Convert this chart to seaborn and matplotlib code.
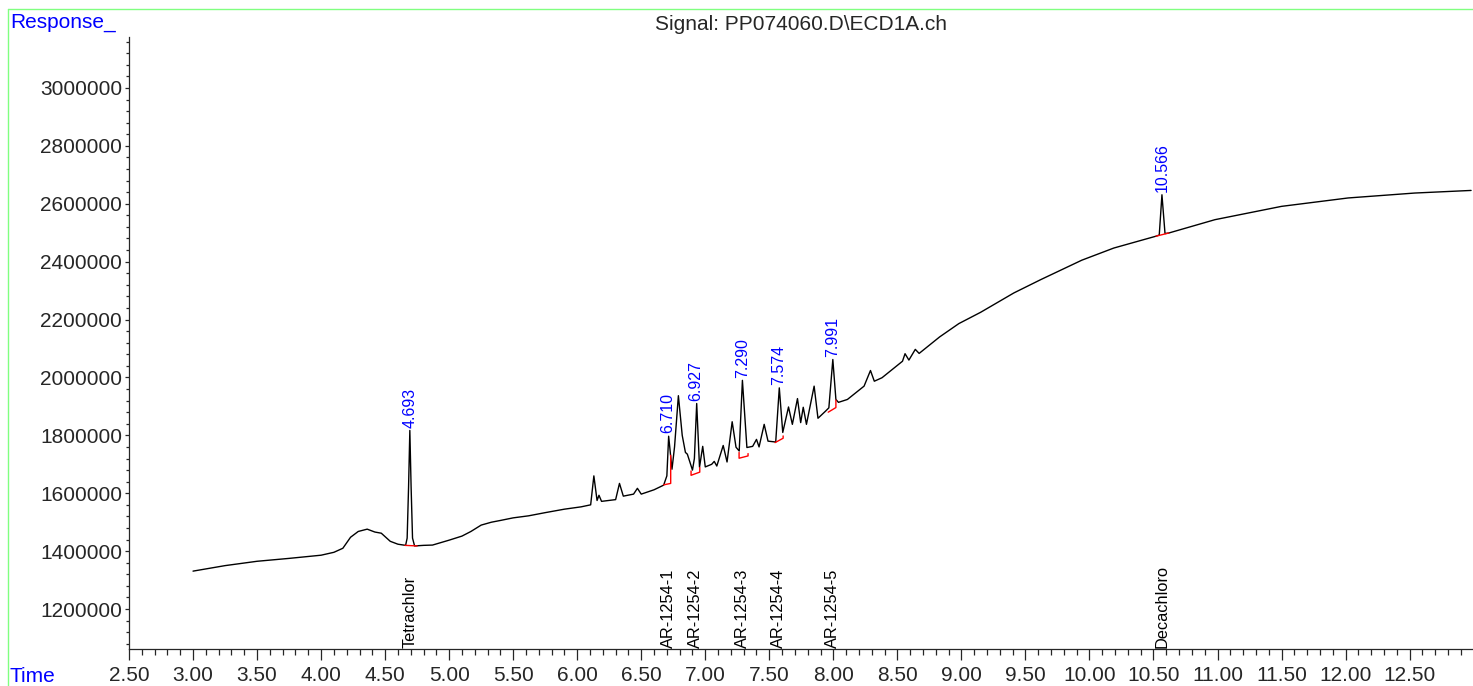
import numpy as np
import pandas as pd
import matplotlib
matplotlib.use("Agg")
import matplotlib.pyplot as plt
import seaborn as sns
from matplotlib.lines import Line2D
from matplotlib.ticker import MultipleLocator, FuncFormatter
import matplotlib.transforms as mtransforms

# chromatogram trace (time in min, response)
time = [3.00, 3.25, 3.50, 3.75, 4.00, 4.10, 4.17, 4.23, 4.29, 4.36, 4.42, 4.47,
        4.54, 4.60, 4.66, 4.672, 4.683, 4.693, 4.703, 4.714, 4.73, 4.80, 4.87,
        5.00, 5.10, 5.17, 5.25, 5.33, 5.40, 5.50, 5.62, 5.75, 5.90, 6.03, 6.105,
        6.13, 6.155, 6.17, 6.19, 6.30, 6.33, 6.36, 6.44, 6.47, 6.50, 6.60, 6.675,
        6.70, 6.714, 6.74, 6.76, 6.79, 6.82, 6.845, 6.86, 6.90, 6.915, 6.933,
        6.955, 6.98, 7.00, 7.05, 7.07, 7.09, 7.14, 7.17, 7.21, 7.24, 7.265, 7.29,
        7.325, 7.37, 7.40, 7.42, 7.46, 7.49, 7.55, 7.578, 7.605, 7.65, 7.68,
        7.72, 7.745, 7.765, 7.79, 7.85, 7.88, 7.94, 7.965, 7.996, 8.02, 8.04,
        8.11, 8.24, 8.29, 8.32, 8.38, 8.54, 8.56, 8.59, 8.64, 8.67, 8.83, 8.98,
        9.15, 9.41, 9.62, 9.94, 10.19, 10.52, 10.545, 10.566, 10.59, 10.62,
        10.98, 11.50, 12.02, 12.54, 12.98]
response = [1331000, 1350000, 1365000, 1375000, 1386000, 1396000, 1410000,
            1448000, 1468000, 1476000, 1466000, 1462000, 1434000, 1424000,
            1420000, 1445000, 1620000, 1817000, 1620000, 1445000, 1418000,
            1420000, 1421000, 1438000, 1452000, 1468000, 1490000, 1500000,
            1506000, 1515000, 1522000, 1533000, 1545000, 1553000, 1560000,
            1660000, 1575000, 1593000, 1572000, 1578000, 1634000, 1590000,
            1597000, 1617000, 1597000, 1612000, 1628000, 1660000, 1797000,
            1683000, 1760000, 1937000, 1800000, 1741000, 1735000, 1680000,
            1720000, 1910000, 1690000, 1762000, 1691000, 1700000, 1710000,
            1694000, 1765000, 1708000, 1847000, 1759000, 1746000, 1990000,
            1758000, 1762000, 1786000, 1760000, 1838000, 1780000, 1777000,
            1964000, 1810000, 1898000, 1838000, 1927000, 1844000, 1897000,
            1838000, 1970000, 1859000, 1884000, 1895000, 2062000, 1924000,
            1914000, 1924000, 1970000, 2024000, 1987000, 1999000, 2056000,
            2082000, 2060000, 2097000, 2083000, 2140000, 2186000, 2225000,
            2292000, 2338000, 2405000, 2447000, 2488000, 2492000, 2631000,
            2497000, 2499000, 2545000, 2591000, 2620000, 2637000, 2646000]

# integrated peaks
peak_rt = [4.693, 6.710, 6.927, 7.290, 7.574, 7.991, 10.566]
peak_top = [1817000, 1797000, 1910000, 1990000, 1964000, 2062000, 2631000]
peak_name = ["Tetrachlor", "AR-1254-1", "AR-1254-2", "AR-1254-3",
             "AR-1254-4", "AR-1254-5", "Decachloro"]

# integration baselines (red)
base_t = [[4.655, 4.75],
          [6.675, 6.73, 6.73],
          [6.889, 6.889, 6.957, 6.957],
          [7.264, 7.264, 7.334, 7.334],
          [7.545, 7.608, 7.608],
          [7.96, 8.02, 8.02],
          [10.52, 10.62]]
base_y = [[1420000, 1418000],
          [1629000, 1634000, 1731000],
          [1677000, 1662000, 1673000, 1689000],
          [1741000, 1721000, 1729000, 1737000],
          [1775000, 1790000, 1798000],
          [1880000, 1896000, 1922000],
          [2488000, 2499000]]

sns.set_style("ticks")
plt.rcParams["font.family"] = ["Liberation Sans", "DejaVu Sans"]
blue = "#0000ff"

fig = plt.figure(figsize=(14.73, 6.86), dpi=100)
ax = fig.add_axes([129 / 1473, 1 - 649 / 686, 1 - 129 / 1473, (649 - 37) / 686])

trace = pd.DataFrame({"time": time, "response": response})
sns.lineplot(data=trace, x="time", y="response", ax=ax, color="black",
             linewidth=1.0, estimator=None, sort=False)

for bt, by in zip(base_t, base_y):
    seg = pd.DataFrame({"t": bt, "y": by})
    sns.lineplot(data=seg, x="t", y="y", ax=ax, color="red", linewidth=1.0,
                 estimator=None, sort=False)

for rt, top in zip(peak_rt, peak_top):
    ax.annotate(f"{rt:.3f}", (rt, top), xytext=(0, 2), textcoords="offset points",
                rotation=90, ha="center", va="bottom", color=blue, fontsize=11.5)

trans = mtransforms.blended_transform_factory(ax.transData, ax.transAxes)
for rt, name in zip(peak_rt, peak_name):
    ax.text(rt, 0.002, name, transform=trans, rotation=90, ha="center",
            va="bottom", fontsize=11.8, color="black")

ax.set_xlim(2.5, 12.995)
ax.set_ylim(1062000, 3176000)
ax.xaxis.set_major_locator(MultipleLocator(0.5))
ax.xaxis.set_minor_locator(MultipleLocator(0.1))
ax.xaxis.set_major_formatter(FuncFormatter(lambda v, p: f"{v:.2f}"))
ax.yaxis.set_major_locator(MultipleLocator(200000))
ax.yaxis.set_minor_locator(MultipleLocator(40000))
ax.yaxis.set_major_formatter(FuncFormatter(lambda v, p: f"{int(round(v))}"))
ax.tick_params(axis="x", which="major", length=8, width=0.9, labelsize=15, pad=4)
ax.tick_params(axis="x", which="minor", length=4.5, width=0.9)
ax.tick_params(axis="y", which="major", length=3, width=0.9, labelsize=15, pad=2)
ax.tick_params(axis="y", which="minor", length=2, width=0.9)
ax.set_xlabel("")
ax.set_ylabel("")
sns.despine(ax=ax)
for s in ("left", "bottom"):
    ax.spines[s].set_linewidth(0.9)
ax.patch.set_alpha(0)

fig.text(801 / 1473, 1 - 25 / 686, "Signal: PP074060.D\\ECD1A.ch",
         ha="center", va="center", fontsize=15)
fig.text(10 / 1473, 1 - 22 / 686, "Response_", ha="left", va="center",
         fontsize=15, color=blue)
fig.text(10 / 1473, 1 - 677 / 686, "Time", ha="left", va="center",
         fontsize=15, color=blue)

green = "#80ff80"
fig.add_artist(Line2D([8 / 1473, 8 / 1473], [0, 1 - 9 / 686],
                      transform=fig.transFigure, color=green, linewidth=1))
fig.add_artist(Line2D([8 / 1473, 1], [1 - 9 / 686, 1 - 9 / 686],
                      transform=fig.transFigure, color=green, linewidth=1))

fig.savefig("out.png", dpi=100)
